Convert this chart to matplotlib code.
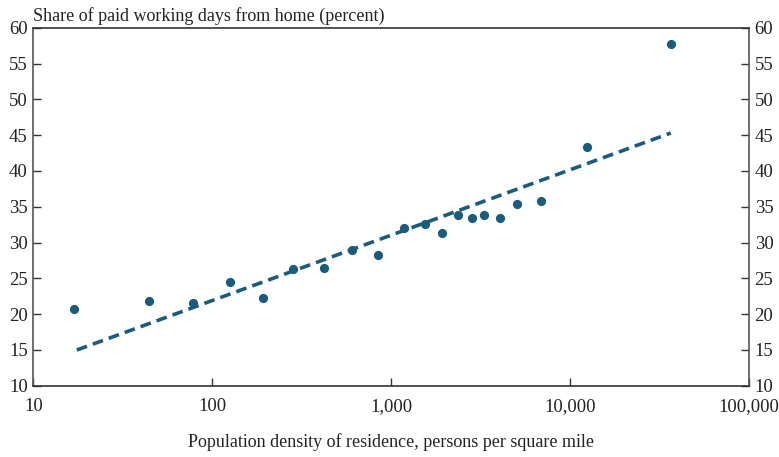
import matplotlib
matplotlib.use("Agg")
import matplotlib.pyplot as plt
from matplotlib.ticker import FixedLocator, FuncFormatter

# 人口密度（每平方英里人数）与居家工作天数占比（%）
density = [16.9, 44.5, 78.3, 126, 193, 284, 419, 603, 849, 1172,
           1549, 1919, 2360, 2824, 3320, 4064, 5037, 6887, 12500, 36540]
share_home = [20.7, 21.9, 21.6, 24.5, 22.3, 26.3, 26.5, 29.0, 28.3, 32.1,
              32.6, 31.4, 33.9, 33.4, 33.9, 33.4, 35.4, 35.8, 43.4, 57.8]

# 趋势线端点
trend_x = [17.5, 36500]
trend_y = [15.0, 45.3]

x_ticks = [10, 100, 1000, 10000, 100000]
y_ticks = [10, 15, 20, 25, 30, 35, 40, 45, 50, 55, 60]

plt.rcParams["font.family"] = ["Liberation Serif", "DejaVu Serif"]
color = "#1b5b7c"
text_color = "#222222"

fig = plt.figure(figsize=(7.79, 4.57), dpi=100)
ax = fig.add_axes([0.0428, 0.1558, 0.9187, 0.7834])

ax.plot(trend_x, trend_y, color=color, lw=2.6, dashes=(3.0, 1.7), zorder=2)
ax.scatter(density, share_home, s=44, color=color, zorder=3, linewidths=0)

ax.set_xscale("log")
ax.set_xlim(10, 100000)
ax.set_ylim(10, 60)
ax.xaxis.set_major_locator(FixedLocator(x_ticks))
ax.xaxis.set_minor_locator(FixedLocator([]))
ax.xaxis.set_major_formatter(FuncFormatter(lambda v, p: f"{int(v):,}"))
ax.set_yticks(y_ticks)

ax.tick_params(axis="both", direction="in", length=6, width=1.0,
               labelsize=13.5, labelcolor=text_color, color="#333333")
ax.tick_params(axis="x", pad=9)
ax.tick_params(axis="y", pad=4, right=True, labelright=True)

for side in ["left", "right"]:
    ax.spines[side].set_color("#555555")
    ax.spines[side].set_linewidth(1.2)
for side in ["top", "bottom"]:
    ax.spines[side].set_color("#333333")
    ax.spines[side].set_linewidth(1.2)

ax.set_xlabel("Population density of residence, persons per square mile",
              fontsize=13, color=text_color, labelpad=13)
fig.text(0.0428, 0.955, "Share of paid working days from home (percent)",
         fontsize=13, color=text_color, ha="left", va="baseline")

fig.savefig("out.png", dpi=100)
